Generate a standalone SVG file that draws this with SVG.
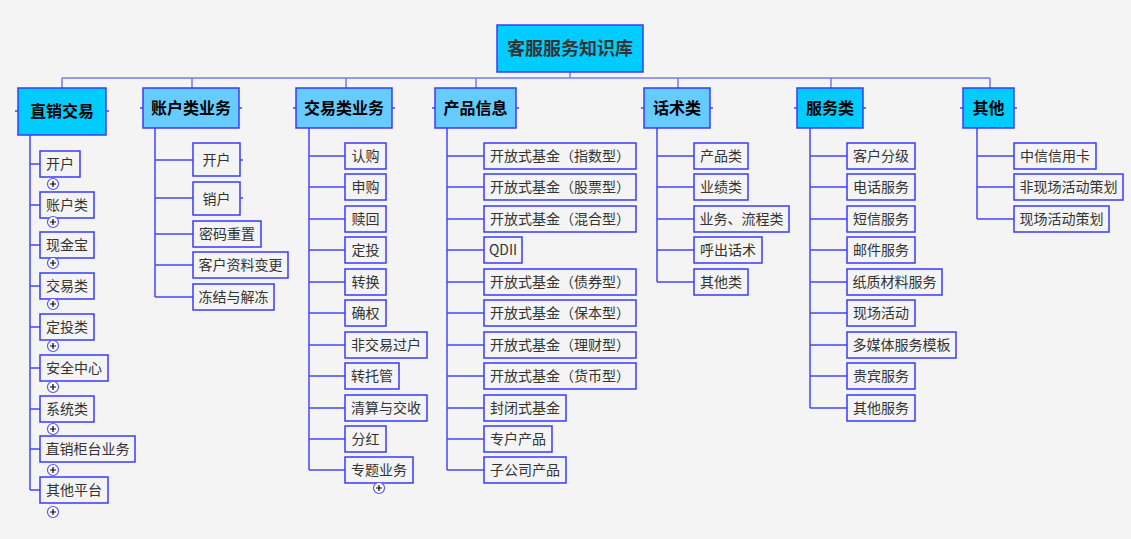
<svg xmlns="http://www.w3.org/2000/svg" width="1131" height="539" viewBox="0 0 1131 539">
<style>
.bg{fill:#f4f4f4}
.n{fill:#f4f4f4;stroke:#3a3aff;stroke-width:1.5}
.ra{fill:#00ccff;stroke:#3a3aff;stroke-width:1.5}
.rb{fill:#66ccff;stroke:#3a3aff;stroke-width:1.5}
.t{font-family:"Noto Sans CJK SC","Noto Sans",sans-serif;font-size:14px;fill:#333;text-anchor:middle}
.h{font-family:"Noto Sans CJK SC","Noto Sans",sans-serif;font-size:16px;font-weight:bold;fill:#000;text-anchor:middle}
.root{font-family:"Noto Sans CJK SC","Noto Sans",sans-serif;font-size:18px;font-weight:bold;fill:#333;text-anchor:middle}
.c{fill:none;stroke:#4545ff;stroke-width:1.5}
.cl{fill:none;stroke:#7777ff;stroke-width:1.5}
.p{fill:#fff;stroke:#5555ff;stroke-width:1.2}
.pl{stroke:#000;stroke-width:1.2}
</style>
<defs>
<g id="plus"><circle class="p" r="5.5"/><path class="pl" d="M-3 0H3M0 -3V3"/></g>
</defs>
<rect class="bg" x="0" y="0" width="1131" height="539"/>
<g id="connectors">
<path class="cl" d="M570 72V78M62 78H990M62 78V88M192 78V88M346 78V88M476 78V88M678 78V88M831 78V88M990 78V88"/>
<path class="c" d="M15 111H18M106 111H109M140 108H143M239 108H242M293 108H296M392 108H395M432 108H435M516 108H519M641 108H644M710 108H713M794 108H797M863 108H866M960 108H963M1014 108H1017M240 160H243M240 198H243"/>
<path class="c" d="M30 135V490M30 164H40M30 205H40M30 245H40M30 286H40M30 327H40M30 368H40M30 409H40M30 449H40M30 490H40"/>
<path class="c" d="M155 128V297M155 160H193M155 198H193M155 234H193M155 265H193M155 297H193"/>
<path class="c" d="M309 128V470M309 156H345M309 187H345M309 219H345M309 250H345M309 282H345M309 313H345M309 345H345M309 376H345M309 408H345M309 439H345M309 470H345"/>
<path class="c" d="M447 128V470M447 156H484M447 187H484M447 219H484M447 250H484M447 282H484M447 313H484M447 345H484M447 376H484M447 408H484M447 439H484M447 470H484"/>
<path class="c" d="M657 128V282M657 156H694M657 187H694M657 219H694M657 250H694M657 282H694"/>
<path class="c" d="M810 128V408M810 156H847M810 187H847M810 219H847M810 250H847M810 282H847M810 313H847M810 345H847M810 376H847M810 408H847"/>
<path class="c" d="M977 128V219M977 156H1014M977 187H1014M977 219H1014"/>
</g>
<g id="root"><rect class="ra" x="497" y="25" width="146" height="47"/><text class="root" x="570" y="55">客服服务知识库</text></g>
<g id="n1"><rect class="ra" x="18" y="88" width="88" height="47"/><text class="h" x="62" y="117">直销交易</text></g>
<g id="n2"><rect class="rb" x="143" y="88" width="96" height="40"/><text class="h" x="191" y="114">账户类业务</text></g>
<g id="n3"><rect class="rb" x="296" y="88" width="96" height="40"/><text class="h" x="344" y="114">交易类业务</text></g>
<g id="n4"><rect class="rb" x="435" y="88" width="81" height="40"/><text class="h" x="475.5" y="114">产品信息</text></g>
<g id="n5"><rect class="rb" x="644" y="88" width="66" height="40"/><text class="h" x="677" y="114">话术类</text></g>
<g id="n6"><rect class="ra" x="797" y="88" width="66" height="40"/><text class="h" x="830" y="114">服务类</text></g>
<g id="n7"><rect class="ra" x="963" y="88" width="51" height="40"/><text class="h" x="988.5" y="114">其他</text></g>
<g id="a1"><rect class="n" x="40" y="151" width="40" height="26"/><text class="t" x="60" y="169">开户</text><use href="#plus" x="53" y="184"/></g>
<g id="a2"><rect class="n" x="40" y="192" width="54" height="26"/><text class="t" x="67" y="210">账户类</text><use href="#plus" x="53" y="222"/></g>
<g id="a3"><rect class="n" x="40" y="232" width="54" height="26"/><text class="t" x="67" y="250">现金宝</text><use href="#plus" x="53" y="263"/></g>
<g id="a4"><rect class="n" x="40" y="273" width="54" height="26"/><text class="t" x="67" y="291">交易类</text><use href="#plus" x="53" y="304"/></g>
<g id="a5"><rect class="n" x="40" y="314" width="54" height="26"/><text class="t" x="67" y="332">定投类</text><use href="#plus" x="53" y="346"/></g>
<g id="a6"><rect class="n" x="40" y="355" width="68" height="26"/><text class="t" x="74" y="373">安全中心</text><use href="#plus" x="53" y="387"/></g>
<g id="a7"><rect class="n" x="40" y="396" width="54" height="26"/><text class="t" x="67" y="414">系统类</text><use href="#plus" x="53" y="429"/></g>
<g id="a8"><rect class="n" x="40" y="436" width="95" height="26"/><text class="t" x="87.5" y="454">直销柜台业务</text><use href="#plus" x="53" y="470"/></g>
<g id="a9"><rect class="n" x="40" y="477" width="68" height="26"/><text class="t" x="74" y="495">其他平台</text><use href="#plus" x="53" y="512"/></g>
<g id="b1"><rect class="n" x="193" y="143" width="47" height="33"/><text class="t" x="216.5" y="165">开户</text></g>
<g id="b2"><rect class="n" x="193" y="182" width="47" height="33"/><text class="t" x="216.5" y="204">销户</text></g>
<g id="b3"><rect class="n" x="193" y="221" width="68" height="26"/><text class="t" x="227" y="239">密码重置</text></g>
<g id="b4"><rect class="n" x="193" y="252" width="95" height="26"/><text class="t" x="240.5" y="270">客户资料变更</text></g>
<g id="b5"><rect class="n" x="193" y="284" width="81" height="26"/><text class="t" x="233.5" y="302">冻结与解冻</text></g>
<g id="c1"><rect class="n" x="345" y="143" width="41" height="26"/><text class="t" x="365.5" y="161">认购</text></g>
<g id="c2"><rect class="n" x="345" y="174" width="41" height="26"/><text class="t" x="365.5" y="192">申购</text></g>
<g id="c3"><rect class="n" x="345" y="206" width="41" height="26"/><text class="t" x="365.5" y="224">赎回</text></g>
<g id="c4"><rect class="n" x="345" y="237" width="41" height="26"/><text class="t" x="365.5" y="255">定投</text></g>
<g id="c5"><rect class="n" x="345" y="269" width="41" height="26"/><text class="t" x="365.5" y="287">转换</text></g>
<g id="c6"><rect class="n" x="345" y="300" width="41" height="26"/><text class="t" x="365.5" y="318">确权</text></g>
<g id="c7"><rect class="n" x="345" y="332" width="82" height="26"/><text class="t" x="386" y="350">非交易过户</text></g>
<g id="c8"><rect class="n" x="345" y="363" width="54" height="26"/><text class="t" x="372" y="381">转托管</text></g>
<g id="c9"><rect class="n" x="345" y="395" width="82" height="26"/><text class="t" x="386" y="413">清算与交收</text></g>
<g id="c10"><rect class="n" x="345" y="426" width="41" height="26"/><text class="t" x="365.5" y="444">分红</text></g>
<g id="c11"><rect class="n" x="345" y="457" width="68" height="26"/><text class="t" x="379" y="475">专题业务</text><use href="#plus" x="379" y="488"/></g>
<g id="d1"><rect class="n" x="484" y="143" width="152" height="26"/><text class="t" x="560" y="161">开放式基金（指数型）</text></g>
<g id="d2"><rect class="n" x="484" y="174" width="152" height="26"/><text class="t" x="560" y="192">开放式基金（股票型）</text></g>
<g id="d3"><rect class="n" x="484" y="206" width="152" height="26"/><text class="t" x="560" y="224">开放式基金（混合型）</text></g>
<g id="d4"><rect class="n" x="484" y="237" width="38" height="26"/><text class="t" x="503" y="255">QDII</text></g>
<g id="d5"><rect class="n" x="484" y="269" width="152" height="26"/><text class="t" x="560" y="287">开放式基金（债券型）</text></g>
<g id="d6"><rect class="n" x="484" y="300" width="152" height="26"/><text class="t" x="560" y="318">开放式基金（保本型）</text></g>
<g id="d7"><rect class="n" x="484" y="332" width="152" height="26"/><text class="t" x="560" y="350">开放式基金（理财型）</text></g>
<g id="d8"><rect class="n" x="484" y="363" width="152" height="26"/><text class="t" x="560" y="381">开放式基金（货币型）</text></g>
<g id="d9"><rect class="n" x="484" y="395" width="82" height="26"/><text class="t" x="525" y="413">封闭式基金</text></g>
<g id="d10"><rect class="n" x="484" y="426" width="68" height="26"/><text class="t" x="518" y="444">专户产品</text></g>
<g id="d11"><rect class="n" x="484" y="457" width="82" height="26"/><text class="t" x="525" y="475">子公司产品</text></g>
<g id="e1"><rect class="n" x="694" y="143" width="54" height="26"/><text class="t" x="721" y="161">产品类</text></g>
<g id="e2"><rect class="n" x="694" y="174" width="54" height="26"/><text class="t" x="721" y="192">业绩类</text></g>
<g id="e3"><rect class="n" x="694" y="206" width="95" height="26"/><text class="t" x="741.5" y="224">业务、流程类</text></g>
<g id="e4"><rect class="n" x="694" y="237" width="68" height="26"/><text class="t" x="728" y="255">呼出话术</text></g>
<g id="e5"><rect class="n" x="694" y="269" width="54" height="26"/><text class="t" x="721" y="287">其他类</text></g>
<g id="f1"><rect class="n" x="847" y="143" width="68" height="26"/><text class="t" x="881" y="161">客户分级</text></g>
<g id="f2"><rect class="n" x="847" y="174" width="68" height="26"/><text class="t" x="881" y="192">电话服务</text></g>
<g id="f3"><rect class="n" x="847" y="206" width="68" height="26"/><text class="t" x="881" y="224">短信服务</text></g>
<g id="f4"><rect class="n" x="847" y="237" width="68" height="26"/><text class="t" x="881" y="255">邮件服务</text></g>
<g id="f5"><rect class="n" x="847" y="269" width="95" height="26"/><text class="t" x="894.5" y="287">纸质材料服务</text></g>
<g id="f6"><rect class="n" x="847" y="300" width="68" height="26"/><text class="t" x="881" y="318">现场活动</text></g>
<g id="f7"><rect class="n" x="847" y="332" width="109" height="26"/><text class="t" x="901.5" y="350">多媒体服务模板</text></g>
<g id="f8"><rect class="n" x="847" y="363" width="68" height="26"/><text class="t" x="881" y="381">贵宾服务</text></g>
<g id="f9"><rect class="n" x="847" y="395" width="68" height="26"/><text class="t" x="881" y="413">其他服务</text></g>
<g id="g1"><rect class="n" x="1014" y="143" width="82" height="26"/><text class="t" x="1055" y="161">中信信用卡</text></g>
<g id="g2"><rect class="n" x="1014" y="174" width="109" height="26"/><text class="t" x="1068.5" y="192">非现场活动策划</text></g>
<g id="g3"><rect class="n" x="1014" y="206" width="95" height="26"/><text class="t" x="1061.5" y="224">现场活动策划</text></g>
</svg>
